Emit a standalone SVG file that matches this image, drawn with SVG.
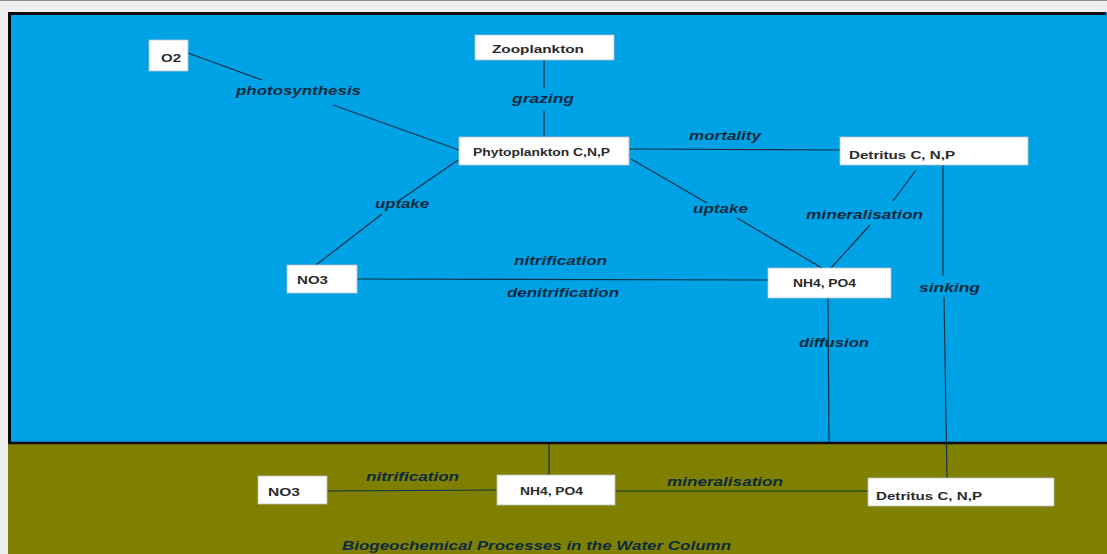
<svg xmlns="http://www.w3.org/2000/svg" width="1107" height="554" viewBox="0 0 1107 554">
<style>
.node rect{fill:#ffffff;stroke:#b9c2c8;stroke-width:0.8}
.node text{font-family:"Liberation Sans",Arial,sans-serif;font-weight:bold;font-size:11px;fill:#2a2a2a}
.lbl{font-family:"Liberation Sans",Arial,sans-serif;font-weight:bold;font-style:italic;font-size:13px;fill:#0c2a40}
#connectors line{stroke:#123247;stroke-width:1.2;fill:none}
</style>
<rect x="0" y="0" width="1107" height="554" fill="#efeff1"/>
<line x1="0" y1="0.5" x2="1107" y2="0.5" stroke="#8a8a8a" stroke-width="1"/>
<rect x="8" y="12" width="1099" height="432" fill="#00a2e6"/>
<rect x="8" y="444" width="1099" height="110" fill="#808000"/>
<path d="M9.5 444 V13.5 H1106" fill="none" stroke="#0a0a0a" stroke-width="3"/>
<line x1="8" y1="443" x2="1107" y2="443" stroke="#0a0a0a" stroke-width="2.5"/>
<g id="connectors">
<line x1="188" y1="53" x2="262" y2="80"/>
<line x1="333" y1="105" x2="459" y2="150"/>
<line x1="544" y1="60" x2="544" y2="88"/>
<line x1="544" y1="111" x2="544" y2="137"/>
<line x1="629" y1="149" x2="840" y2="150"/>
<line x1="458" y1="160" x2="400" y2="200"/>
<line x1="382" y1="214" x2="316" y2="265"/>
<line x1="631" y1="159" x2="707" y2="203"/>
<line x1="737" y1="218" x2="822" y2="268"/>
<line x1="916" y1="170" x2="893" y2="201"/>
<line x1="870" y1="225" x2="831" y2="268"/>
<line x1="943" y1="165" x2="943" y2="276"/>
<line x1="944" y1="297" x2="947" y2="478"/>
<line x1="357" y1="279" x2="768" y2="280"/>
<line x1="828" y1="298" x2="829" y2="442"/>
<line x1="549" y1="444" x2="549" y2="475"/>
<line x1="327" y1="491" x2="497" y2="490"/>
<line x1="615" y1="491" x2="868" y2="491"/>
</g>
<g id="n-o2" class="node"><rect x="149" y="40" width="39" height="31"/><text x="161" y="62" textLength="20" lengthAdjust="spacingAndGlyphs">O2</text></g>
<g id="n-zoo" class="node"><rect x="475" y="35" width="139" height="25"/><text x="492" y="53" textLength="92" lengthAdjust="spacingAndGlyphs">Zooplankton</text></g>
<g id="n-phyto" class="node"><rect x="459" y="137" width="170" height="28"/><text x="473" y="156" textLength="137" lengthAdjust="spacingAndGlyphs">Phytoplankton C,N,P</text></g>
<g id="n-det-top" class="node"><rect x="840" y="137" width="188" height="28"/><text x="849" y="159" textLength="106" lengthAdjust="spacingAndGlyphs">Detritus C, N,P</text></g>
<g id="n-no3-top" class="node"><rect x="287" y="265" width="70" height="28"/><text x="297" y="284" textLength="31" lengthAdjust="spacingAndGlyphs">NO3</text></g>
<g id="n-nh4-top" class="node"><rect x="768" y="268" width="123" height="30"/><text x="793" y="287" textLength="63" lengthAdjust="spacingAndGlyphs">NH4, PO4</text></g>
<g id="n-no3-bot" class="node"><rect x="258" y="476" width="69" height="28"/><text x="268" y="496" textLength="32" lengthAdjust="spacingAndGlyphs">NO3</text></g>
<g id="n-nh4-bot" class="node"><rect x="497" y="475" width="118" height="30"/><text x="520" y="495" textLength="63" lengthAdjust="spacingAndGlyphs">NH4, PO4</text></g>
<g id="n-det-bot" class="node"><rect x="868" y="478" width="186" height="28"/><text x="876" y="500" textLength="106" lengthAdjust="spacingAndGlyphs">Detritus C, N,P</text></g>
<g id="labels">
<text class="lbl" x="236" y="95" textLength="125" lengthAdjust="spacingAndGlyphs">photosynthesis</text>
<text class="lbl" x="512" y="103" textLength="62" lengthAdjust="spacingAndGlyphs">grazing</text>
<text class="lbl" x="689" y="140" textLength="72" lengthAdjust="spacingAndGlyphs">mortality</text>
<text class="lbl" x="375" y="208" textLength="54" lengthAdjust="spacingAndGlyphs">uptake</text>
<text class="lbl" x="693" y="213" textLength="55" lengthAdjust="spacingAndGlyphs">uptake</text>
<text class="lbl" x="806" y="219" textLength="117" lengthAdjust="spacingAndGlyphs">mineralisation</text>
<text class="lbl" x="514" y="265" textLength="93" lengthAdjust="spacingAndGlyphs">nitrification</text>
<text class="lbl" x="507" y="297" textLength="112" lengthAdjust="spacingAndGlyphs">denitrification</text>
<text class="lbl" x="919" y="292" textLength="61" lengthAdjust="spacingAndGlyphs">sinking</text>
<text class="lbl" x="799" y="347" textLength="70" lengthAdjust="spacingAndGlyphs">diffusion</text>
<text class="lbl" x="366" y="481" textLength="93" lengthAdjust="spacingAndGlyphs">nitrification</text>
<text class="lbl" x="667" y="486" textLength="116" lengthAdjust="spacingAndGlyphs">mineralisation</text>
<text class="lbl" x="342" y="550" textLength="389" lengthAdjust="spacingAndGlyphs">Biogeochemical Processes in the Water Column</text>
</g>
</svg>
